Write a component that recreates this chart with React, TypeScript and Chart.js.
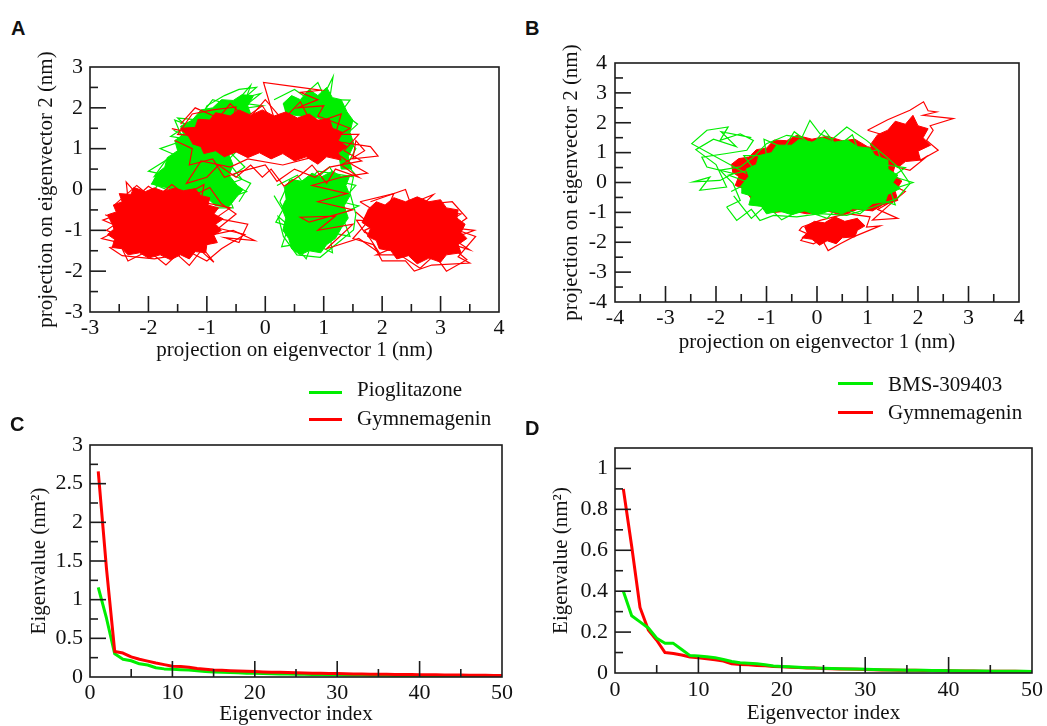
import React, { useEffect, useRef } from "react";
import { Chart, registerables } from "chart.js";

Chart.register(...registerables);

const RED = "#ff0000";
const GREEN = "#00ee00";
const SERIF = '"Liberation Serif", "Times New Roman", serif';
const SANS = '"Liberation Sans", Arial, sans-serif';

// ---------- Panel A ticks ----------
const A_X_TICKS = [-3, -2, -1, 0, 1, 2, 3, 4];
const A_X_MINOR = [-2.5, -1.5, -0.5, 0.5, 1.5, 2.5, 3.5];
const A_Y_TICKS = [-3, -2, -1, 0, 1, 2, 3];
const A_Y_MINOR = [-2.5, -1.5, -0.5, 0.5, 1.5, 2.5];

// ---------- Panel B ticks ----------
const B_X_TICKS = [-4, -3, -2, -1, 0, 1, 2, 3, 4];
const B_X_MINOR = [-3.5, -2.5, -1.5, -0.5, 0.5, 1.5, 2.5, 3.5];
const B_Y_TICKS = [-4, -3, -2, -1, 0, 1, 2, 3, 4];
const B_Y_MINOR = [-3.5, -2.5, -1.5, -0.5, 0.5, 1.5, 2.5, 3.5];

// ---------- Panel C / D ticks ----------
const C_X_TICKS = [0, 10, 20, 30, 40, 50];
const C_X_MINOR = [5, 15, 25, 35, 45];
const C_Y_TICKS = [0, 0.5, 1, 1.5, 2, 2.5, 3];
const C_Y_MINOR = [0.25, 0.75, 1.25, 1.75, 2.25, 2.75];
const D_X_TICKS = [0, 10, 20, 30, 40, 50];
const D_X_MINOR = [5, 15, 25, 35, 45];
const D_Y_TICKS = [0, 0.2, 0.4, 0.6, 0.8, 1];
const D_Y_MINOR = [0.1, 0.3, 0.5, 0.7, 0.9];

// ---------- Panel A projections (Pioglitazone vs Gymnemagenin) ----------
const GYM_A_LEFT_CORE = [
  [-2.62, -0.85], [-2.7, -0.62], [-2.55, -0.55], [-2.6, -0.38], [-2.45, -0.3], [-2.5, -0.1], [-2.3, -0.12],
  [-2.25, 0.05], [-2.05, -0.05], [-1.9, 0.04], [-1.75, -0.04], [-1.55, 0.03], [-1.4, -0.03], [-1.2, 0.02],
  [-1.1, -0.15], [-0.95, -0.2], [-0.98, -0.38], [-0.8, -0.45], [-0.88, -0.6], [-0.72, -0.72], [-0.85, -0.85],
  [-0.75, -1.0], [-0.88, -1.12], [-0.82, -1.3], [-1.0, -1.35], [-1.02, -1.55], [-1.2, -1.52], [-1.3, -1.7],
  [-1.45, -1.6], [-1.62, -1.72], [-1.8, -1.6], [-2.0, -1.68], [-2.15, -1.55], [-2.35, -1.6], [-2.45, -1.45],
  [-2.62, -1.42], [-2.58, -1.22], [-2.7, -1.1], [-2.6, -0.98],
];
const GYM_A_LEFT_TRAIL = [
  [-2.74, -0.62], [-2.3, -0.9], [-2.38, 0.18], [-2.05, -0.35], [-2.72, -1.0], [-2.2, -1.3], [-2.66, -1.42],
  [-2.45, -1.62], [-1.9, -1.7], [-1.5, -1.6], [-1.3, -1.86], [-1.1, -1.5], [-0.88, -1.78], [-1.2, -1.2],
  [-0.55, -1.0], [-0.18, -1.25], [-0.7, -1.18], [-0.45, -1.3], [-0.3, -0.85], [-0.85, -0.7], [-0.6, -0.45],
  [-1.1, -0.3], [-1.05, 0.12], [-1.6, -0.3], [-2.0, 0.08], [-2.5, -0.55],
];
const GYM_A_LEFT_TRAIL2 = [
  [-2.6, -0.4], [-2.2, 0.1], [-1.9, -0.25], [-1.6, 0.12], [-1.3, -0.2], [-0.95, 0.05], [-0.75, -0.35],
  [-0.5, -0.6], [-0.8, -0.95], [-0.35, -1.1], [-0.75, -1.45], [-1.0, -1.75], [-1.4, -1.45], [-1.7, -1.85],
  [-2.0, -1.5], [-2.35, -1.75], [-2.5, -1.3], [-2.8, -1.2], [-2.45, -0.95], [-2.78, -0.75], [-2.5, -0.6],
];
const GYM_A_TOP_CORE = [
  [-1.32, 1.3], [-1.45, 1.5], [-1.2, 1.52], [-1.15, 1.72], [-0.95, 1.7], [-0.85, 1.88], [-0.6, 1.8],
  [-0.45, 1.95], [-0.25, 1.82], [-0.05, 1.95], [0.15, 1.8], [0.35, 1.9], [0.55, 1.75], [0.75, 1.85],
  [0.9, 1.7], [1.1, 1.72], [1.15, 1.5], [1.32, 1.4], [1.25, 1.2], [1.4, 1.05], [1.25, 0.9], [1.3, 0.72],
  [1.05, 0.8], [0.9, 0.62], [0.7, 0.8], [0.5, 0.7], [0.3, 0.88], [0.1, 0.75], [-0.1, 0.9], [-0.3, 0.78],
  [-0.5, 0.92], [-0.7, 0.8], [-0.85, 0.95], [-1.05, 0.88], [-1.1, 1.05], [-1.25, 1.12],
];
const GYM_A_TOP_TRAIL = [
  [-1.6, 1.49], [-1.0, 1.3], [-1.5, 1.35], [-1.25, 1.85], [-0.9, 1.95], [-0.5, 2.02], [-0.6, 1.5],
  [-0.05, 2.05], [0.2, 1.5], [-0.03, 2.62], [0.5, 2.52], [0.95, 2.43], [0.6, 2.38], [0.9, 2.2], [0.55, 2.0],
  [1.0, 2.05], [0.9, 1.8], [1.45, 1.5], [1.1, 1.2], [1.8, 1.05], [1.93, 0.82], [1.5, 0.75], [1.55, 1.2],
  [1.7, 0.95], [1.3, 0.6], [1.6, 0.3], [1.2, 0.5], [1.05, 0.15], [0.8, 0.6], [0.6, 0.35], [0.32, 0.08],
  [0.1, 0.5], [-0.05, 0.3], [-0.25, 0.6], [-0.5, 0.3], [-0.8, 0.6], [-1.0, 0.3], [-1.35, 0.15], [-1.1, 0.7],
  [-0.6, 0.55], [-0.3, 0.75], [0.3, 0.6], [0.7, 0.75], [1.2, 0.9], [1.5, 0.6], [1.75, 0.4], [1.3, 0.3],
  [0.8, 0.1], [1.4, -0.1], [0.9, -0.3], [1.5, -0.5], [0.75, -0.8], [0.6, -0.68], [1.2, -0.65], [0.9, -1.0],
  [1.5, -0.85], [1.05, -1.45], [1.6, -1.2], [1.95, -1.55], [1.7, -1.0], [2.0, -0.8],
];
const GYM_A_TOP_TRAIL2 = [
  [-1.45, 1.6], [-1.2, 2.0], [-0.8, 1.75], [-0.6, 2.1], [-0.3, 1.7], [0.0, 2.2], [0.3, 1.7], [0.6, 2.15],
  [0.8, 1.6], [1.3, 1.85], [1.2, 1.35], [1.6, 1.35], [1.35, 0.95], [1.65, 0.7], [1.1, 0.55], [0.85, 0.3],
  [0.5, 0.5], [0.2, 0.2], [0.0, 0.6], [-0.4, 0.45], [-0.7, 0.3], [-0.9, 0.75], [-1.3, 0.6], [-1.25, 1.0],
  [-1.55, 1.2],
];
const GYM_A_RIGHT_CORE = [
  [1.75, -0.5], [1.9, -0.3], [2.05, -0.38], [2.2, -0.2], [2.4, -0.3], [2.6, -0.18], [2.8, -0.3], [3.0, -0.25],
  [3.1, -0.45], [3.3, -0.5], [3.28, -0.7], [3.42, -0.85], [3.35, -1.05], [3.45, -1.2], [3.3, -1.35],
  [3.35, -1.55], [3.1, -1.6], [3.0, -1.78], [2.8, -1.68], [2.6, -1.82], [2.45, -1.62], [2.25, -1.7],
  [2.15, -1.5], [1.95, -1.45], [1.9, -1.25], [1.75, -1.15], [1.8, -0.95], [1.65, -0.8],
];
const GYM_A_RIGHT_TRAIL = [
  [1.62, -0.3], [2.2, -0.1], [2.05, -0.6], [2.88, -0.12], [2.6, -0.5], [3.35, -0.6], [3.0, -0.9],
  [3.58, -1.0], [3.2, -1.2], [3.5, -1.48], [3.1, -1.3], [3.45, -1.72], [3.1, -2.0], [2.9, -1.6],
  [2.65, -1.93], [2.3, -1.6], [1.9, -1.6], [2.4, -1.3], [1.7, -1.05], [1.56, -0.75], [2.2, -0.8], [1.62, -0.3],
];
const GYM_A_RIGHT_TRAIL2 = [
  [1.8, -0.3], [2.4, 0.0], [2.5, -0.4], [3.2, -0.3], [3.45, -0.7], [3.2, -0.95], [3.6, -1.15], [3.3, -1.65],
  [3.5, -1.8], [2.85, -1.85], [2.55, -2.0], [2.4, -1.75], [2.0, -1.75], [1.85, -1.35], [1.5, -1.2],
  [1.75, -0.8], [1.55, -0.55],
];
const PIO_A_LEFT_CORE = [
  [-1.95, 0.12], [-1.85, 0.4], [-1.72, 0.55], [-1.68, 0.78], [-1.5, 0.95], [-1.55, 1.2], [-1.4, 1.35],
  [-1.45, 1.55], [-1.25, 1.7], [-1.1, 1.95], [-0.9, 2.0], [-0.75, 2.2], [-0.55, 2.18], [-0.4, 2.32],
  [-0.2, 2.3], [-0.3, 2.05], [-0.25, 1.85], [-0.5, 1.6], [-0.55, 1.2], [-0.65, 0.95], [-0.55, 0.6],
  [-0.62, 0.35], [-0.48, 0.1], [-0.38, 0.0], [-0.5, -0.2], [-0.62, -0.42], [-0.85, -0.4], [-1.0, -0.2],
  [-1.3, -0.05], [-1.6, 0.0],
];
const PIO_A_LEFT_TRAIL = [
  [-1.57, 1.45], [-1.2, 1.2], [-1.62, 1.3], [-1.35, 1.55], [-1.5, 1.75], [-1.1, 1.7], [-1.0, 2.05],
  [-0.7, 2.3], [-0.45, 2.45], [-0.15, 2.5], [-0.35, 2.25], [-0.08, 2.35], [-0.3, 2.1], [-0.05, 2.05],
  [-0.55, 1.95], [-0.2, 1.7], [-0.7, 1.4], [-0.45, 1.0], [-0.65, 0.7], [-0.4, 0.25], [-0.6, 0.15],
  [-0.32, -0.05], [-0.62, -0.2], [-0.55, -0.45], [-0.95, -0.45], [-1.94, 0.15], [-1.6, 0.5], [-1.9, 0.32],
  [-1.7, 0.72], [-1.35, 0.4], [-1.5, 1.0],
];
const PIO_A_LEFT_TRAIL2 = [
  [-1.9, 0.0], [-1.7, 0.35], [-2.0, 0.45], [-1.55, 0.85], [-1.8, 1.0], [-1.4, 1.2], [-1.55, 1.7],
  [-1.25, 1.55], [-0.9, 2.2], [-0.55, 2.05], [-0.25, 2.55], [-0.45, 1.75], [-0.35, 1.35], [-0.7, 1.05],
  [-0.35, 0.55], [-0.55, 0.35], [-0.25, 0.15], [-0.45, -0.3],
];
const PIO_A_RIGHT_CORE = [
  [0.32, 0.05], [0.45, 0.25], [0.62, 0.2], [0.8, 0.4], [0.95, 0.3], [1.15, 0.45], [1.3, 0.32], [1.45, 0.35],
  [1.38, 0.1], [1.45, -0.15], [1.35, -0.4], [1.42, -0.7], [1.3, -0.95], [1.2, -1.2], [1.05, -1.35],
  [0.95, -1.55], [0.75, -1.5], [0.6, -1.6], [0.45, -1.45], [0.4, -1.2], [0.3, -1.0], [0.35, -0.7],
  [0.28, -0.45], [0.35, -0.25],
];
const PIO_A_RIGHT_TRAIL = [
  [0.25, -0.3], [0.42, 0.23], [0.6, 0.0], [0.9, 0.45], [1.51, 0.31], [1.45, -0.09], [1.55, -0.6],
  [1.51, -0.99], [1.16, -1.4], [0.94, -1.66], [0.54, -1.6], [0.31, -1.15], [0.22, -0.66], [0.5, -1.0], [0.25, -0.3],
];
const PIO_A_RIGHT_TRAIL2 = [
  [0.2, 0.1], [0.55, 0.35], [0.7, 0.05], [1.1, 0.55], [1.25, 0.2], [1.55, 0.1], [1.3, -0.3], [1.6, -0.4],
  [1.3, -0.6], [1.45, -1.15], [1.1, -1.05], [1.15, -1.55], [0.8, -1.3], [0.7, -1.7], [0.5, -1.35],
  [0.28, -1.4], [0.4, -0.9], [0.18, -0.8], [0.3, -0.5], [0.15, -0.15],
];
const PIO_A_TOP_CORE = [
  [0.3, 2.1], [0.45, 2.3], [0.6, 2.2], [0.75, 2.45], [0.9, 2.3], [1.05, 2.5], [1.15, 2.25], [1.3, 2.2],
  [1.4, 1.9], [1.5, 1.7], [1.45, 1.4], [1.52, 1.1], [1.42, 0.8], [1.48, 0.5], [1.3, 0.5], [1.25, 0.9],
  [1.2, 1.3], [1.1, 1.6], [0.9, 1.75], [0.6, 1.8], [0.35, 1.85],
];
const PIO_A_TOP_TRAIL = [
  [0.15, 2.2], [0.5, 2.45], [0.65, 2.3], [0.9, 2.62], [1.0, 2.3], [1.16, 2.76], [1.1, 2.2], [1.45, 2.19],
  [1.3, 1.9], [1.58, 1.6], [1.35, 1.3], [1.55, 1.0], [1.4, 0.6], [1.55, 0.35],
];

// ---------- Panel B projections (BMS-309403 vs Gymnemagenin) ----------
const GYM_B_CORE = [
  [-1.7, 0.6], [-1.55, 0.8], [-1.35, 0.85], [-1.2, 1.1], [-1.0, 1.15], [-0.85, 1.42], [-0.6, 1.4],
  [-0.4, 1.58], [-0.1, 1.45], [0.2, 1.55], [0.5, 1.4], [0.75, 1.45], [1.0, 1.2], [1.25, 1.1], [1.35, 0.85],
  [1.55, 0.6], [1.5, 0.3], [1.68, 0.05], [1.55, -0.3], [1.6, -0.6], [1.3, -0.75], [1.1, -0.95], [0.8, -0.9],
  [0.5, -1.1], [0.2, -0.95], [-0.2, -1.05], [-0.5, -0.95], [-0.85, -1.0], [-1.1, -0.8], [-1.3, -0.55],
  [-1.45, -0.2], [-1.62, -0.1], [-1.55, 0.2], [-1.68, 0.35],
];
const GYM_B_UPPER_CORE = [
  [1.05, 1.25], [1.2, 1.6], [1.4, 1.75], [1.55, 2.05], [1.75, 1.95], [1.9, 2.25], [2.0, 1.9], [2.2, 1.8],
  [2.1, 1.5], [2.25, 1.25], [2.0, 1.05], [2.05, 0.75], [1.75, 0.7], [1.6, 0.5], [1.4, 0.8], [1.15, 0.9],
];
const GYM_B_UPPER_TRAIL = [
  [1.0, 1.75], [1.4, 2.1], [1.84, 2.42], [2.11, 2.7], [2.2, 2.4], [2.37, 2.36], [2.1, 2.25], [2.7, 2.14],
  [2.24, 1.9], [2.3, 1.75], [2.17, 1.41], [2.4, 1.08], [2.04, 0.74], [2.2, 0.9], [1.84, 0.41], [1.58, 0.52],
  [1.8, 1.0], [1.38, 0.97], [1.12, 1.3], [1.5, 1.5], [1.0, 1.75],
];
const GYM_B_LOWER_CORE = [
  [-0.25, -1.5], [-0.05, -1.3], [0.15, -1.35], [0.35, -1.15], [0.55, -1.3], [0.8, -1.2], [0.95, -1.45],
  [0.8, -1.6], [0.75, -1.82], [0.5, -1.85], [0.38, -2.05], [0.2, -1.95], [0.05, -2.1], [-0.1, -1.9],
  [-0.3, -1.85], [-0.2, -1.7],
];
const GYM_B_LOWER_TRAIL = [
  [-0.3, -1.49], [0.06, -1.27], [0.59, -1.04], [1.05, -1.15], [0.98, -1.49], [1.25, -1.45], [0.72, -1.82],
  [0.46, -2.05], [0.22, -2.28], [0.1, -1.9], [-0.07, -2.05], [-0.32, -1.94], [-0.2, -1.71], [-0.35, -1.6],
  [-0.3, -1.49],
];
const GYM_B_SIDE_TRAIL = [
  [1.0, -0.6], [1.58, -0.54], [1.2, -0.9], [1.6, -1.2], [1.1, -1.26], [1.4, -0.8], [1.75, -0.3], [1.5, -0.1],
];
const BMS_CORE = [
  [-1.5, -0.1], [-1.35, 0.2], [-1.4, 0.45], [-1.2, 0.6], [-1.15, 0.9], [-0.9, 1.0], [-0.8, 1.25], [-0.5, 1.25],
  [-0.35, 1.45], [-0.1, 1.35], [0.1, 1.5], [0.35, 1.35], [0.6, 1.42], [0.8, 1.2], [1.05, 1.15], [1.15, 0.9],
  [1.4, 0.75], [1.4, 0.45], [1.6, 0.25], [1.5, 0.0], [1.65, -0.2], [1.4, -0.4], [1.35, -0.65], [1.1, -0.7],
  [0.95, -0.9], [0.7, -0.88], [0.5, -1.05], [0.25, -0.95], [0.0, -1.08], [-0.25, -0.95], [-0.5, -1.08],
  [-0.75, -0.95], [-1.0, -1.05], [-1.1, -0.8], [-1.35, -0.75], [-1.3, -0.45], [-1.5, -0.35],
];
const BMS_TRAIL = [
  [-1.79, -0.82], [-1.59, -1.27], [-1.3, -0.9], [-1.13, -1.27], [-0.86, -1.1], [-0.4, -1.15], [0.06, -1.04],
  [0.59, -1.1], [1.12, -0.82], [1.58, -0.54], [1.84, -0.04], [1.64, 0.46], [1.38, 0.85], [0.98, 1.41],
  [0.59, 1.86], [0.3, 1.45], [0.06, 1.63], [-0.14, 2.08], [-0.3, 1.5], [-0.6, 1.58], [-1.0, 1.3],
  [-1.26, 0.85], [-1.52, 0.52], [-1.92, 0.41], [-1.66, -0.04], [-1.52, -0.6], [-1.79, -0.82],
];
const BMS_TRAIL2 = [
  [-1.65, -0.45], [-1.3, -1.2], [-1.0, -0.75], [-0.7, -1.25], [-0.3, -0.9], [0.2, -1.2], [0.4, -0.85],
  [0.85, -1.05], [1.2, -0.55], [1.55, -0.75], [1.45, -0.25], [1.9, 0.0], [1.5, 0.2], [1.75, 0.5], [1.3, 0.6],
  [1.2, 1.1], [0.85, 0.95], [0.7, 1.6], [0.4, 1.2], [0.15, 1.75], [-0.1, 1.25], [-0.45, 1.7], [-0.65, 1.15],
  [-1.05, 1.45], [-1.0, 0.9], [-1.45, 0.9], [-1.25, 0.45], [-1.75, 0.25], [-1.35, 0.0], [-1.7, -0.3],
];
const BMS_EXCURSION = [
  [-1.4, 0.3], [-2.48, 1.3], [-2.18, 1.75], [-1.76, 1.86], [-1.92, 1.41], [-1.52, 1.63], [-1.26, 1.41],
  [-1.39, 1.08], [-1.79, 0.97], [-2.28, 0.85], [-2.18, 0.52], [-1.66, 0.3], [-1.92, 0.07], [-2.45, 0.02],
  [-2.12, 0.18], [-2.32, -0.26], [-1.79, -0.15], [-2.0, 0.6], [-2.4, 1.1], [-2.05, 1.45], [-1.6, 1.2],
  [-1.9, 1.7], [-1.3, 1.5],
];

// ---------- Eigenvalue spectra ----------
const EIG_INDEX = [
  1, 2, 3, 4, 5, 6, 7, 8, 9, 10, 11, 12, 13, 14, 15, 16, 17, 18, 19, 20, 21, 22, 23, 24, 25,
  26, 27, 28, 29, 30, 31, 32, 33, 34, 35, 36, 37, 38, 39, 40, 41, 42, 43, 44, 45, 46, 47, 48, 49, 50,
];
const C_GYM = [
  2.66, 1.4, 0.33, 0.31, 0.26, 0.23, 0.205, 0.18, 0.16, 0.14, 0.135, 0.125, 0.11, 0.1, 0.09, 0.088, 0.082,
  0.078, 0.074, 0.07, 0.066, 0.063, 0.06, 0.057, 0.054, 0.052, 0.05, 0.048, 0.046, 0.044, 0.042, 0.04,
  0.039, 0.037, 0.036, 0.034, 0.033, 0.032, 0.031, 0.03, 0.029, 0.028, 0.027, 0.026, 0.025, 0.024, 0.023,
  0.022, 0.021, 0.02,
];
const C_PIO = [
  1.16, 0.76, 0.3, 0.23, 0.21, 0.17, 0.155, 0.12, 0.105, 0.1, 0.095, 0.09, 0.08, 0.07, 0.065, 0.06, 0.057,
  0.054, 0.05, 0.047, 0.044, 0.042, 0.04, 0.038, 0.036, 0.034, 0.032, 0.031, 0.03, 0.028, 0.027, 0.026,
  0.025, 0.024, 0.023, 0.022, 0.021, 0.02, 0.019, 0.018, 0.018, 0.017, 0.016, 0.016, 0.015, 0.015, 0.014,
  0.014, 0.013, 0.013,
];
const D_GYM = [
  0.9, 0.62, 0.32, 0.21, 0.16, 0.1, 0.095, 0.088, 0.078, 0.075, 0.07, 0.065, 0.058, 0.045, 0.042, 0.04,
  0.037, 0.035, 0.032, 0.03, 0.028, 0.027, 0.025, 0.024, 0.022, 0.021, 0.02, 0.019, 0.018, 0.017, 0.016,
  0.015, 0.015, 0.014, 0.013, 0.013, 0.012, 0.012, 0.011, 0.011, 0.01, 0.01, 0.0095, 0.009, 0.009, 0.0085,
  0.008, 0.008, 0.0075, 0.007,
];
const D_BMS = [
  0.4, 0.28, 0.25, 0.22, 0.17, 0.145, 0.145, 0.115, 0.085, 0.083, 0.08, 0.075, 0.066, 0.056, 0.05, 0.048,
  0.045, 0.04, 0.034, 0.032, 0.03, 0.028, 0.026, 0.024, 0.023, 0.022, 0.021, 0.02, 0.019, 0.018, 0.017,
  0.016, 0.015, 0.015, 0.014, 0.013, 0.013, 0.012, 0.012, 0.011, 0.011, 0.01, 0.01, 0.0095, 0.009, 0.009,
  0.0085, 0.008, 0.008, 0.0075,
];

// ---------- helpers ----------
const pts = (arr: number[][]) => arr.map(([x, y]) => ({ x, y }));
const series = (xs: number[], ys: number[]) => xs.map((x, i) => ({ x, y: ys[i] }));

function cloud(label: string, data: number[][], color: string, order: number) {
  return {
    label, data: pts(data), showLine: true, fill: "shape", backgroundColor: color, borderColor: color,
    borderWidth: 1, pointRadius: 0, tension: 0, order,
  };
}
function trail(label: string, data: number[][], color: string, order: number) {
  return {
    label, data: pts(data), showLine: true, fill: false, borderColor: color, backgroundColor: color,
    borderWidth: 1.2, pointRadius: 0, tension: 0, order,
  };
}
function curve(label: string, ys: number[], color: string, order: number) {
  return {
    label, data: series(EIG_INDEX, ys), showLine: true, fill: false, borderColor: color, backgroundColor: color,
    borderWidth: 3, pointRadius: 0, tension: 0, order, borderJoinStyle: "round",
  };
}

const frameTicks = {
  id: "frameTicks",
  afterDatasetsDraw(chart: any, _args: any, opts: any) {
    const { ctx, chartArea: a, scales } = chart;
    const xs = scales.x;
    const ys = scales.y;
    ctx.save();
    ctx.strokeStyle = "#1c1c1c";
    ctx.lineWidth = 1.6;
    const seg = (x1: number, y1: number, x2: number, y2: number) => {
      ctx.beginPath();
      ctx.moveTo(x1, y1);
      ctx.lineTo(x2, y2);
      ctx.stroke();
    };
    const inside = (s: any, v: number) => v > s.min && v < s.max;
    for (const v of opts.xMajor) if (inside(xs, v)) { const p = xs.getPixelForValue(v); seg(p, a.bottom, p, a.bottom - 16); }
    for (const v of opts.xMinor) if (inside(xs, v)) { const p = xs.getPixelForValue(v); seg(p, a.bottom, p, a.bottom - 8); }
    for (const v of opts.yMajor) if (inside(ys, v)) { const p = ys.getPixelForValue(v); seg(a.left, p, a.left + 16, p); }
    for (const v of opts.yMinor) if (inside(ys, v)) { const p = ys.getPixelForValue(v); seg(a.left, p, a.left + 8, p); }
    ctx.strokeRect(a.left, a.top, a.right - a.left, a.bottom - a.top);
    ctx.restore();
  },
};

function axis(o: {
  horizontal: boolean; min: number; max: number; ticks: number[]; title: string;
  titlePad: number; tickPad: number; size: number;
}) {
  return {
    type: "linear",
    position: o.horizontal ? "bottom" : "left",
    min: o.min,
    max: o.max,
    grid: { display: false, drawTicks: false },
    border: { display: false },
    afterBuildTicks: (s: any) => { s.ticks = o.ticks.map((v) => ({ value: v })); },
    afterFit: (s: any) => { if (o.horizontal) s.height = o.size; else s.width = o.size; },
    ticks: {
      autoSkip: false, maxRotation: 0, minRotation: 0, padding: o.tickPad, color: "#111",
      font: { family: SERIF, size: 22 }, callback: (v: any) => String(v),
    },
    title: {
      display: true, text: o.title, color: "#111", font: { family: SERIF, size: 21 },
      padding: o.horizontal ? { top: 0, bottom: o.titlePad } : { top: o.titlePad, bottom: 0 },
    },
  };
}

function makeConfig(p: any) {
  return {
    type: "scatter",
    data: { datasets: p.datasets },
    options: {
      responsive: false,
      animation: false,
      events: [],
      layout: { padding: p.padding },
      plugins: {
        legend: { display: false },
        tooltip: { enabled: false },
        frameTicks: p.ticks,
      },
      scales: { x: axis(p.x), y: axis(p.y) },
    },
    plugins: [frameTicks],
  };
}

const CONFIG_A = () => makeConfig({
  padding: { top: 27, right: 21, left: 0, bottom: 0 },
  ticks: { xMajor: A_X_TICKS, xMinor: A_X_MINOR, yMajor: A_Y_TICKS, yMinor: A_Y_MINOR },
  x: { horizontal: true, min: -3, max: 4, ticks: A_X_TICKS, title: "projection on eigenvector 1 (nm)", titlePad: 7, tickPad: 3, size: 58 },
  y: { horizontal: false, min: -3, max: 3, ticks: A_Y_TICKS, title: "projection on eigenvector 2 (nm)", titlePad: 34, tickPad: 7, size: 90 },
  datasets: [
    cloud("Gymnemagenin", GYM_A_LEFT_CORE, RED, 0),
    trail("Gymnemagenin", GYM_A_LEFT_TRAIL, RED, 0),
    trail("Gymnemagenin", GYM_A_LEFT_TRAIL2, RED, 0),
    cloud("Gymnemagenin", GYM_A_TOP_CORE, RED, 0),
    trail("Gymnemagenin", GYM_A_TOP_TRAIL, RED, 0),
    trail("Gymnemagenin", GYM_A_TOP_TRAIL2, RED, 0),
    cloud("Gymnemagenin", GYM_A_RIGHT_CORE, RED, 0),
    trail("Gymnemagenin", GYM_A_RIGHT_TRAIL, RED, 0),
    trail("Gymnemagenin", GYM_A_RIGHT_TRAIL2, RED, 0),
    cloud("Pioglitazone", PIO_A_LEFT_CORE, GREEN, 1),
    trail("Pioglitazone", PIO_A_LEFT_TRAIL, GREEN, 1),
    trail("Pioglitazone", PIO_A_LEFT_TRAIL2, GREEN, 1),
    cloud("Pioglitazone", PIO_A_RIGHT_CORE, GREEN, 1),
    trail("Pioglitazone", PIO_A_RIGHT_TRAIL, GREEN, 1),
    trail("Pioglitazone", PIO_A_RIGHT_TRAIL2, GREEN, 1),
    cloud("Pioglitazone", PIO_A_TOP_CORE, GREEN, 1),
    trail("Pioglitazone", PIO_A_TOP_TRAIL, GREEN, 1),
  ],
});

const CONFIG_B = () => makeConfig({
  padding: { top: 23, right: 28, left: 0, bottom: 0 },
  ticks: { xMajor: B_X_TICKS, xMinor: B_X_MINOR, yMajor: B_Y_TICKS, yMinor: B_Y_MINOR },
  x: { horizontal: true, min: -4, max: 4, ticks: B_X_TICKS, title: "projection on eigenvector 1 (nm)", titlePad: 15, tickPad: 3, size: 68 },
  y: { horizontal: false, min: -4, max: 4, ticks: B_Y_TICKS, title: "projection on eigenvector 2 (nm)", titlePad: 39, tickPad: 8, size: 95 },
  datasets: [
    cloud("BMS-309403", BMS_CORE, GREEN, 0),
    trail("BMS-309403", BMS_TRAIL, GREEN, 0),
    trail("BMS-309403", BMS_TRAIL2, GREEN, 0),
    trail("BMS-309403", BMS_EXCURSION, GREEN, 0),
    cloud("Gymnemagenin", GYM_B_CORE, RED, 1),
    cloud("Gymnemagenin", GYM_B_UPPER_CORE, RED, 1),
    trail("Gymnemagenin", GYM_B_UPPER_TRAIL, RED, 1),
    cloud("Gymnemagenin", GYM_B_LOWER_CORE, RED, 1),
    trail("Gymnemagenin", GYM_B_LOWER_TRAIL, RED, 1),
    trail("Gymnemagenin", GYM_B_SIDE_TRAIL, RED, 1),
  ],
});

const CONFIG_C = () => makeConfig({
  padding: { top: 45, right: 18, left: 0, bottom: 0 },
  ticks: { xMajor: C_X_TICKS, xMinor: C_X_MINOR, yMajor: C_Y_TICKS, yMinor: C_Y_MINOR },
  x: { horizontal: true, min: 0, max: 50, ticks: C_X_TICKS, title: "Eigenvector index", titlePad: -1, tickPad: 3, size: 49 },
  y: { horizontal: false, min: 0, max: 3, ticks: C_Y_TICKS, title: "Eigenvalue (nm\u00B2)", titlePad: 27, tickPad: 7, size: 90 },
  datasets: [
    curve("Gymnemagenin", C_GYM, RED, 0),
    curve("Pioglitazone", C_PIO, GREEN, 1),
  ],
});

const CONFIG_D = () => makeConfig({
  padding: { top: 28, right: 15, left: 0, bottom: 0 },
  ticks: { xMajor: D_X_TICKS, xMinor: D_X_MINOR, yMajor: D_Y_TICKS, yMinor: D_Y_MINOR },
  x: { horizontal: true, min: 0, max: 50, ticks: D_X_TICKS, title: "Eigenvector index", titlePad: 0, tickPad: 4, size: 53 },
  y: { horizontal: false, min: 0, max: 1.1, ticks: D_Y_TICKS, title: "Eigenvalue (nm\u00B2)", titlePad: 29, tickPad: 7, size: 95 },
  datasets: [
    curve("BMS-309403", D_BMS, GREEN, 0),
    curve("Gymnemagenin", D_GYM, RED, 1),
  ],
});

function ChartBox(props: { left: number; top: number; width: number; height: number; config: () => any }) {
  const ref = useRef<HTMLCanvasElement>(null);
  useEffect(() => {
    const chart = new Chart(ref.current as HTMLCanvasElement, props.config() as any);
    return () => chart.destroy();
  }, []);
  const { left, top, width, height } = props;
  return (
    <div style={{ position: "absolute", left, top, width, height }}>
      <canvas ref={ref} width={width} height={height} style={{ display: "block", width, height }} />
    </div>
  );
}

function PanelLetter(props: { x: number; y: number; text: string }) {
  return (
    <div style={{ position: "absolute", left: props.x, top: props.y, font: `bold 20px ${SANS}`, lineHeight: "20px", color: "#111" }}>
      {props.text}
    </div>
  );
}

function LegendRow(props: { lineX: number; lineW: number; lineY: number; textX: number; textTop: number; color: string; text: string }) {
  return (
    <>
      <div style={{ position: "absolute", left: props.lineX, top: props.lineY - 1.5, width: props.lineW, height: 3, background: props.color }} />
      <div style={{ position: "absolute", left: props.textX, top: props.textTop, font: `21px ${SERIF}`, lineHeight: "28px", color: "#111", whiteSpace: "nowrap" }}>
        {props.text}
      </div>
    </>
  );
}

export default function App() {
  return (
    <div style={{ position: "absolute", left: 0, top: 0, width: 1047, height: 726, overflow: "hidden", background: "#fff" }}>
      <ChartBox left={0} top={40} width={520} height={330} config={CONFIG_A} />
      <ChartBox left={520} top={40} width={527} height={330} config={CONFIG_B} />
      <ChartBox left={0} top={400} width={520} height={326} config={CONFIG_C} />
      <ChartBox left={520} top={420} width={527} height={306} config={CONFIG_D} />
      <PanelLetter x={11} y={18} text="A" />
      <PanelLetter x={525} y={18} text="B" />
      <PanelLetter x={10} y={414} text="C" />
      <PanelLetter x={525} y={418} text="D" />
      <LegendRow lineX={309} lineW={33} lineY={392} textX={357} textTop={375} color={GREEN} text="Pioglitazone" />
      <LegendRow lineX={309} lineW={33} lineY={419} textX={357} textTop={404} color={RED} text="Gymnemagenin" />
      <LegendRow lineX={838} lineW={35} lineY={383} textX={888} textTop={370} color={GREEN} text="BMS-309403" />
      <LegendRow lineX={838} lineW={35} lineY={412} textX={888} textTop={398} color={RED} text="Gymnemagenin" />
    </div>
  );
}
